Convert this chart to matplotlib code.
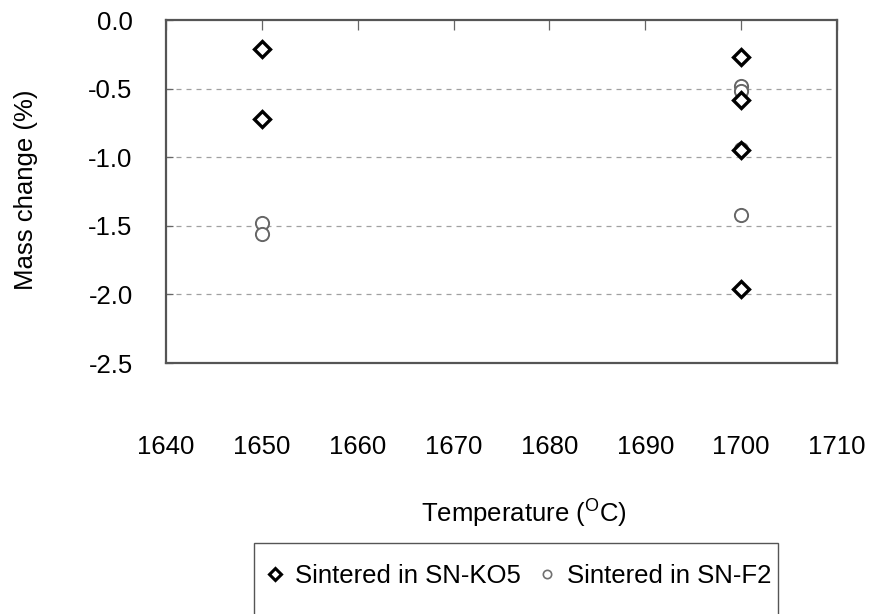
import matplotlib
matplotlib.use('Agg')
import matplotlib.pyplot as plt
from matplotlib.patches import Rectangle
from matplotlib.lines import Line2D

plt.rcParams['font.family'] = ['Liberation Sans', 'DejaVu Sans']
plt.rcParams['mathtext.fontset'] = 'custom'
plt.rcParams['mathtext.rm'] = 'Liberation Sans'

# mass change readings (%) per sintering bed
ko5_temp = [1650, 1650, 1700, 1700, 1700, 1700]
ko5_mass = [-0.21, -0.72, -0.27, -0.58, -0.95, -1.96]
f2_temp = [1650, 1650, 1700, 1700, 1700, 1700]
f2_mass = [-1.48, -1.56, -0.48, -0.52, -0.94, -1.42]

x_ticks = [1640, 1650, 1660, 1670, 1680, 1690, 1700, 1710]
y_ticks = [0.0, -0.5, -1.0, -1.5, -2.0, -2.5]
labels = ['Sintered in SN-KO5', 'Sintered in SN-F2']

W, H = 872, 614
fs = 18.5
fig = plt.figure(figsize=(W / 100, H / 100), dpi=100)
ax = fig.add_axes([166 / W, 1 - 363 / H, (837 - 166) / W, (363 - 20) / H])

ax.plot(f2_temp, f2_mass, 'o', ms=9.5, mfc='white', mec='#666666', mew=1.4, ls='none', zorder=3)
ax.plot(ko5_temp, ko5_mass, 'D', ms=8.5, mfc='white', mec='black', mew=2.4, ls='none', zorder=4)

ax.set_xlim(1640, 1710)
ax.set_ylim(-2.5, 0.0)
ax.set_xticks(x_ticks)
ax.set_yticks(y_ticks)
ax.set_yticklabels([f'{v:.1f}' for v in y_ticks])

for v in y_ticks[1:-1]:
  ax.axhline(v, color='#a0a0a0', lw=0.9, ls=(0, (4, 4)), zorder=1)

ax.tick_params(axis='x', bottom=False, top=True, labelbottom=True, labeltop=False,
               direction='in', length=7, width=0.9, color='#666666', pad=52, labelsize=fs)
ax.tick_params(axis='y', left=True, direction='in', length=5, width=0.9,
               color='#666666', pad=24, labelsize=fs)

for s in ax.spines.values():
  s.set_color('#555555')
  s.set_linewidth(1.6)

fig.text(26 / W, 1 - 190 / H, 'Mass change (%)', rotation=90, ha='center', va='center', fontsize=fs)
fig.text(524 / W, 1 - 513 / H, r'Temperature ($^{\mathrm{O}}$C)', ha='center', va='center', fontsize=fs)

# legend box (cut off by the bottom of the figure)
fig.patches.append(Rectangle((254 / W, -0.1), (778 - 254) / W, 1 - 543 / H + 0.1,
                             transform=fig.transFigure, fill=False, ec='#555555', lw=1.0))
handles = [Line2D([], [], marker='D', ms=6, mfc='white', mec='black', mew=2.2, ls='none'),
           Line2D([], [], marker='o', ms=6, mfc='white', mec='#707070', mew=1.2, ls='none')]
fig.legend(handles, labels, loc='center', bbox_to_anchor=(518 / W, 1 - 576 / H),
           ncol=2, frameon=False, fontsize=fs, handlelength=0.8, handletextpad=0.4,
           columnspacing=0.6)

fig.savefig('out.png', dpi=100)
